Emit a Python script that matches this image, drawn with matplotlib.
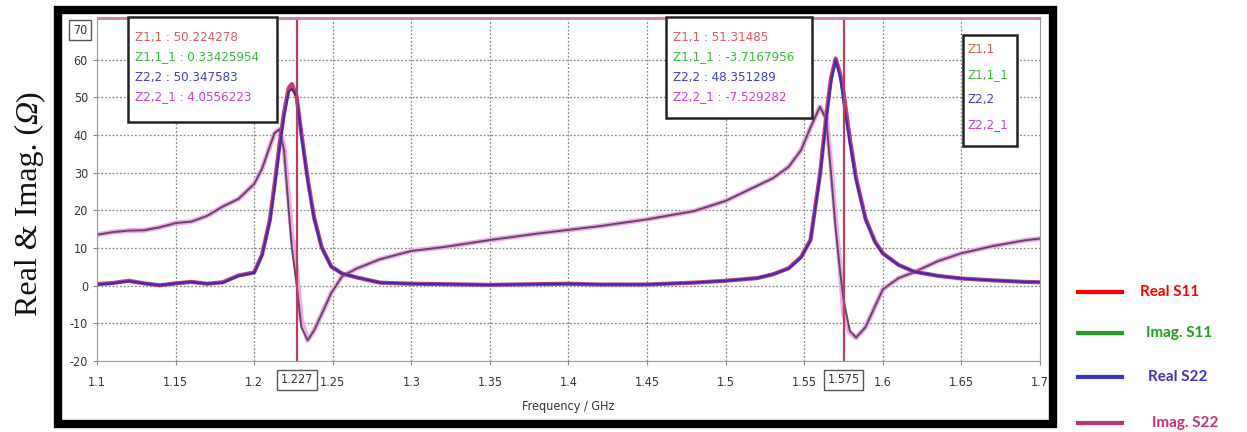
import matplotlib
matplotlib.use("Agg")
import matplotlib.pyplot as plt
from matplotlib.patches import Rectangle

# ---------------- data ----------------
freq = [1.100, 1.110, 1.120, 1.130, 1.140, 1.150, 1.160, 1.170, 1.180, 1.190,
        1.200, 1.205, 1.210, 1.213, 1.216, 1.219, 1.222, 1.224, 1.227, 1.230,
        1.234, 1.238, 1.243, 1.249, 1.256, 1.265, 1.280, 1.300, 1.320, 1.350,
        1.380, 1.400, 1.420, 1.450, 1.480, 1.500, 1.520, 1.530, 1.540, 1.548,
        1.554, 1.560, 1.564, 1.567, 1.570, 1.573, 1.575, 1.579, 1.583, 1.589,
        1.595, 1.600, 1.610, 1.620, 1.635, 1.650, 1.670, 1.690, 1.700]

real_s11 = [0.4, 0.7, 1.3, 0.6, 0.1, 0.6, 1.0, 0.5, 0.9, 2.7,
            3.5, 8.2, 17.5, 27, 37, 46, 52.5, 53.5, 50.2, 40.5,
            28.5, 18.3, 10.2, 5.1, 3.2, 2.2, 0.8, 0.5, 0.4, 0.2,
            0.4, 0.5, 0.3, 0.3, 0.8, 1.3, 2.0, 3.0, 4.6, 7.6,
            12.2, 29.5, 45, 55, 60.3, 56, 51.3, 39, 28.5, 17.8,
            11.7, 8.6, 5.5, 3.7, 2.6, 1.9, 1.4, 1.0, 0.9]

imag_s11 = [13.5, 14.2, 14.6, 14.7, 15.5, 16.6, 17.0, 18.5, 21.0, 23.0,
            27.0, 31.0, 37.0, 40.5, 41.5, 36.0, 20.0, 10.0, 0.33, -11.0,
            -14.5, -12.0, -7.5, -2.0, 2.5, 4.5, 7.0, 9.2, 10.2, 12.1,
            13.8, 14.8, 15.8, 17.6, 19.8, 22.5, 26.5, 28.5, 31.5, 36.0,
            42.0, 47.5, 44.0, 30.0, 15.0, 3.0, -3.7, -12.0, -13.8, -11.0,
            -5.5, -1.0, 2.0, 3.6, 6.5, 8.6, 10.5, 12.0, 12.5]

real_s22 = [0.3, 0.6, 1.2, 0.6, 0.1, 0.6, 1.0, 0.5, 0.8, 2.6,
            3.4, 8.0, 17.0, 26, 36, 45, 51.5, 52.2, 50.3, 40.0,
            28.0, 18.0, 10.0, 5.0, 3.2, 2.2, 0.8, 0.5, 0.4, 0.2,
            0.4, 0.5, 0.3, 0.3, 0.8, 1.3, 2.0, 3.0, 4.5, 7.5,
            12.0, 29.0, 44, 54, 60.0, 55, 48.4, 38, 28.0, 17.5,
            11.5, 8.5, 5.5, 3.7, 2.6, 1.9, 1.4, 1.0, 0.9]

imag_s22 = [13.5, 14.2, 14.6, 14.7, 15.5, 16.6, 17.0, 18.5, 21.0, 23.0,
            27.0, 31.0, 37.0, 40.5, 41.5, 37.0, 23.0, 13.0, 4.06, -9.0,
            -14.5, -12.0, -7.5, -2.0, 2.5, 4.5, 7.0, 9.2, 10.2, 12.1,
            13.8, 14.8, 15.8, 17.6, 19.8, 22.5, 26.5, 28.5, 31.5, 36.0,
            42.0, 47.5, 44.5, 32.0, 17.0, 4.0, -7.5, -12.5, -13.8, -11.0,
            -5.5, -1.0, 2.0, 3.6, 6.5, 8.6, 10.5, 12.0, 12.5]

marker_freqs = [1.227, 1.575]
marker1_lines = ["Z1,1 : 50.224278", "Z1,1_1 : 0.33425954",
                 "Z2,2 : 50.347583", "Z2,2_1 : 4.0556223"]
marker2_lines = ["Z1,1 : 51.31485", "Z1,1_1 : -3.7167956",
                 "Z2,2 : 48.351289", "Z2,2_1 : -7.529282"]
trace_names = ["Z1,1", "Z1,1_1", "Z2,2", "Z2,2_1"]
legend_labels = ["Real S11", "Imag. S11", "Real S22", "Imag. S22"]
ylabel_parts = [("Real & Imag. (", "normal"), ("Ω", "italic"), (")", "normal")]
xticks = [1.1, 1.15, 1.2, 1.25, 1.3, 1.35, 1.4, 1.45, 1.5, 1.55, 1.6, 1.65, 1.7]
yticks = [-20, -10, 0, 10, 20, 30, 40, 50, 60]

# ---------------- figure ----------------
W, H = 1247, 432
fig = plt.figure(figsize=(W / 100, H / 100), dpi=100)
fig.patch.set_facecolor("white")

def fx(x):
    return x / W

def fy(y):
    return 1 - y / H

narrow = ["DejaVu Sans"]
tfont = dict(family=narrow, stretch="condensed")

ax = fig.add_axes([fx(97), fy(361), fx(1040) - fx(97), fy(17) - fy(361)])
ax.set_xlim(1.1, 1.7)
ax.set_ylim(-20, 71.3)

# traces
ax.plot(freq, imag_s22, color="#f2a6ef", lw=3.6, solid_capstyle="round")
ax.plot(freq, imag_s11, color="#5f4a5c", lw=1.4)
ax.plot(freq, real_s11, color="#c83c78", lw=3.0)
ax.plot(freq, real_s22, color="#3a2fb0", lw=1.6)

# marker lines
for mf in marker_freqs:
    ax.axvline(mf, color="#b8405e", lw=1.6, zorder=5)
ax.axhline(71.0, color="#d47aa8", lw=2.0, zorder=5)

ax.set_xticks(xticks)
ax.set_xticklabels([f"{t:g}" for t in xticks])
ax.set_yticks(yticks)
ax.set_yticklabels([str(t) for t in yticks])
ax.tick_params(axis="both", colors="#888888", labelcolor="#333333",
               labelsize=9, length=3, direction="out")
ax.tick_params(axis="x", pad=8)
for lab in ax.get_xticklabels() + ax.get_yticklabels():
    lab.set_family(narrow)
    lab.set_stretch("condensed")
ax.grid(True, color="#8a8a8a", linestyle=(0, (1.5, 1.5)), lw=0.9)
for s in ["left", "bottom", "right"]:
    ax.spines[s].set_color("#9a9a9a")
ax.spines["top"].set_visible(False)

# boxed tick labels for the markers and 70
for mf in marker_freqs:
    ax.text(mf, -25.0, f"{mf:g}", ha="center", va="center", fontsize=9,
            color="#333333", **tfont,
            bbox=dict(boxstyle="square,pad=0.3", fc="white", ec="#555555", lw=1.0))
fig.text(fx(80), fy(30), "70", ha="center", va="center", fontsize=9,
         color="#333333", **tfont,
         bbox=dict(boxstyle="square,pad=0.3", fc="white", ec="#555555", lw=1.0))

ax.set_xlabel("Frequency / GHz", fontsize=9, color="#333333", labelpad=8, **tfont)

# marker readout boxes
line_cols = ["#e05a5a", "#3cb83c", "#4040c8", "#cc40cc"]
for (x0, y0, x1, y1, lines) in [(128, 17, 277, 122, marker1_lines),
                                (666, 17, 812, 118, marker2_lines)]:
    fig.patches.append(Rectangle((fx(x0), fy(y1)), fx(x1) - fx(x0), fy(y0) - fy(y1),
                                 transform=fig.transFigure, fc="white", ec="#222222",
                                 lw=1.8, zorder=10))
    for i, (txt, c) in enumerate(zip(lines, line_cols)):
        fig.text(fx(x0 + 7), fy(y0 + 20 + i * 20), txt, color=c, fontsize=9.5,
                 va="center", ha="left", zorder=11, **tfont)

# trace-name legend box
fig.patches.append(Rectangle((fx(963), fy(146)), fx(1017) - fx(963), fy(35) - fy(146),
                             transform=fig.transFigure, fc="white", ec="#222222",
                             lw=1.8, zorder=10))
for i, (txt, c) in enumerate(zip(trace_names, line_cols)):
    fig.text(fx(968), fy(50 + i * 24.7), txt, color=c, fontsize=9.5,
             va="center", ha="left", zorder=11, **tfont)

# outer black frame of the screenshot
fig.patches.append(Rectangle((fx(58), fy(424)), fx(1053) - fx(58), fy(10) - fy(424),
                             transform=fig.transFigure, fill=False, ec="black",
                             lw=6.0, zorder=20))

# y label, built from pieces so that the Omega is italic
renderer = fig.canvas.get_renderer()
base_x, base_y = 37, 316  # pixel position of the baseline start (bottom of label)
cur_y = base_y
for txt, style in ylabel_parts:
    t = fig.text(fx(base_x), fy(cur_y), txt, rotation=90, rotation_mode="anchor",
                 ha="left", va="baseline", fontsize=23, family="Liberation Serif",
                 style=style, color="#111111")
    bb = t.get_window_extent(renderer)
    cur_y -= bb.height

# external legend
leg_cols = ["#ff0000", "#1f9e1f", "#3a35c0", "#c0307a"]
leg_y = [292, 333, 377, 423]
leg_tx = [1140, 1146, 1148, 1152]
for lbl, c, y, tx in zip(legend_labels, leg_cols, leg_y, leg_tx):
    fig.add_artist(plt.Line2D([fx(1078), fx(1122)], [fy(y), fy(y)],
                              color=c, lw=3.0, transform=fig.transFigure))
    fig.text(fx(tx), fy(y), lbl, color=c, fontsize=11, fontweight="bold",
             family="Lato", ha="left", va="center")

fig.savefig("out.png", dpi=100)
